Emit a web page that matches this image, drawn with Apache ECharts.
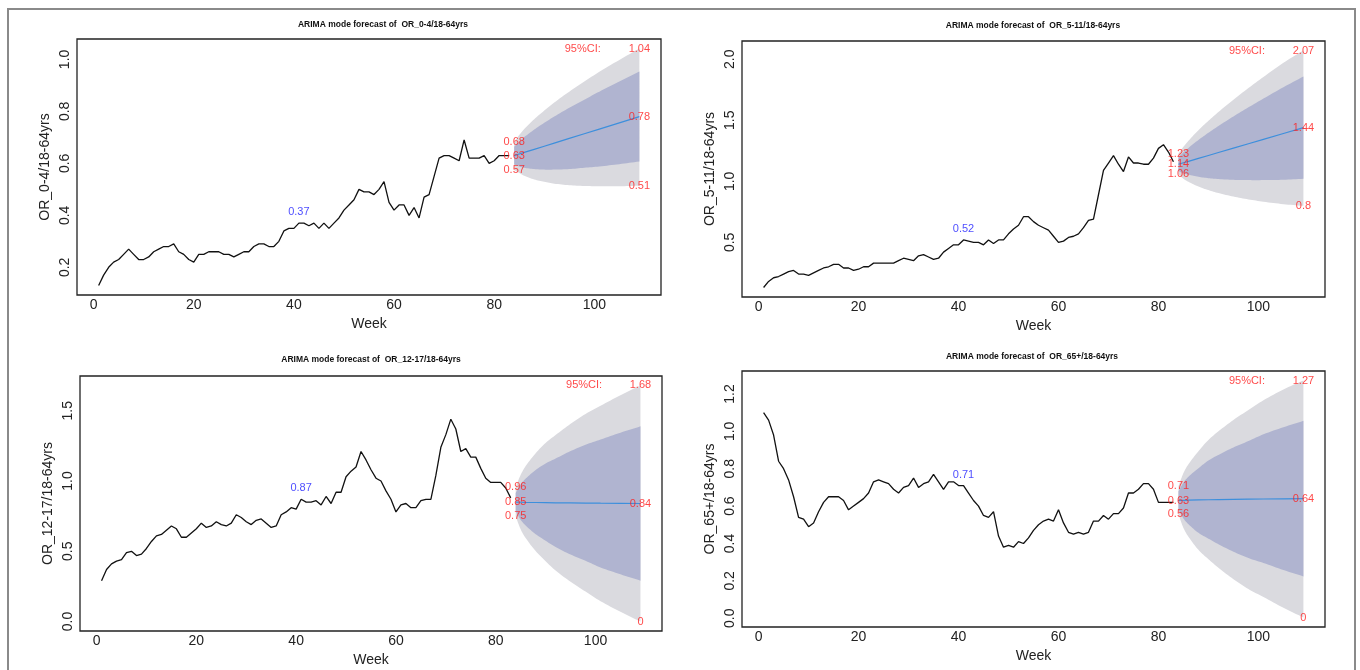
<!DOCTYPE html>
<html>
<head>
<meta charset="utf-8">
<script src="https://cdn.jsdelivr.net/npm/echarts@6/dist/echarts.min.js"></script>
<style>
html,body{margin:0;padding:0;background:#fff;}
#chart{width:1360px;height:670px;}
</style>
</head>
<body>
<div id="chart"></div>
<script>
// ---------- data ----------
const histWeeks = Array.from({length: 83}, (_, i) => i + 1);
const fcWeeks = [84, 85, 86, 88, 90, 92, 95, 98, 101, 105, 109];
const xTicks = [0, 20, 40, 60, 80, 100];
const markWeek = 41;

const titles = ['ARIMA mode forecast of  OR_0-4/18-64yrs', 'ARIMA mode forecast of  OR_5-11/18-64yrs',
                'ARIMA mode forecast of  OR_12-17/18-64yrs', 'ARIMA mode forecast of  OR_65+/18-64yrs'];
const yNames = ['OR_0-4/18-64yrs', 'OR_5-11/18-64yrs', 'OR_12-17/18-64yrs', 'OR_65+/18-64yrs'];
const ciLabel = '95%CI:';
const xName = 'Week';

// panel 1: OR_0-4/18-64yrs
const p1Hist = [0.13,0.17,0.20,0.22,0.23,0.25,0.27,0.25,0.23,0.23,
  0.24,0.26,0.27,0.28,0.28,0.29,0.26,0.25,0.23,0.22,
  0.25,0.25,0.26,0.26,0.26,0.25,0.25,0.24,0.25,0.26,
  0.26,0.28,0.29,0.29,0.28,0.28,0.30,0.34,0.35,0.35,
  0.37,0.37,0.36,0.37,0.35,0.37,0.35,0.37,0.39,0.42,
  0.44,0.46,0.50,0.49,0.49,0.48,0.50,0.53,0.45,0.42,
  0.44,0.44,0.40,0.43,0.39,0.47,0.48,0.55,0.62,0.63,
  0.63,0.62,0.61,0.69,0.62,0.62,0.62,0.63,0.60,0.61,
  0.63,0.63,0.63];
const p1Mean = [0.630,0.636,0.642,0.654,0.666,0.678,0.696,0.714,0.732,0.756,0.780];
const p1Hi95 = [0.682,0.709,0.732,0.770,0.803,0.834,0.876,0.915,0.952,0.998,1.042];
const p1Lo95 = [0.574,0.563,0.552,0.538,0.529,0.522,0.516,0.513,0.512,0.512,0.514];
const p1Hi80 = [0.664,0.684,0.701,0.730,0.756,0.780,0.814,0.845,0.876,0.915,0.953];
const p1Lo80 = [0.596,0.588,0.583,0.578,0.576,0.576,0.578,0.583,0.588,0.597,0.607];
const p1YTicks = [0.2, 0.4, 0.6, 0.8, 1.0];

// panel 2: OR_5-11/18-64yrs
const p2Hist = [0.13,0.18,0.21,0.22,0.24,0.26,0.27,0.24,0.24,0.23,
  0.25,0.27,0.29,0.30,0.32,0.32,0.29,0.29,0.27,0.28,
  0.30,0.30,0.33,0.33,0.33,0.33,0.33,0.35,0.37,0.36,
  0.35,0.39,0.40,0.38,0.36,0.37,0.42,0.45,0.48,0.48,
  0.52,0.51,0.50,0.50,0.48,0.52,0.49,0.52,0.52,0.57,
  0.61,0.64,0.71,0.71,0.67,0.64,0.62,0.60,0.55,0.50,
  0.51,0.54,0.55,0.57,0.62,0.68,0.69,0.89,1.09,1.15,
  1.21,1.14,1.08,1.20,1.15,1.15,1.14,1.14,1.19,1.27,
  1.30,1.24,1.16];
const p2Mean = [1.140,1.152,1.164,1.188,1.212,1.236,1.272,1.308,1.344,1.392,1.440];
const p2Hi95 = [1.228,1.283,1.332,1.419,1.496,1.568,1.669,1.764,1.855,1.971,2.072];
const p2Lo95 = [1.057,1.021,0.996,0.957,0.928,0.904,0.875,0.852,0.833,0.813,0.799];
const p2Hi80 = [1.196,1.238,1.274,1.339,1.398,1.453,1.532,1.606,1.678,1.771,1.859];
const p2Lo80 = [1.084,1.066,1.054,1.037,1.026,1.019,1.012,1.010,1.010,1.013,1.021];
const p2YTicks = [0.5, 1.0, 1.5, 2.0];

// panel 3: OR_12-17/18-64yrs
const p3Hist = [0.29,0.37,0.41,0.43,0.44,0.49,0.50,0.47,0.48,0.52,
  0.57,0.61,0.62,0.65,0.68,0.66,0.60,0.60,0.63,0.66,
  0.70,0.67,0.68,0.71,0.69,0.68,0.70,0.76,0.74,0.71,
  0.69,0.72,0.73,0.70,0.67,0.68,0.76,0.78,0.81,0.80,
  0.87,0.85,0.85,0.86,0.83,0.89,0.84,0.92,0.92,1.03,
  1.07,1.10,1.21,1.15,1.08,1.02,1.00,0.93,0.87,0.78,
  0.83,0.84,0.81,0.81,0.86,0.87,0.87,1.04,1.24,1.33,
  1.44,1.37,1.21,1.23,1.17,1.17,1.09,1.02,0.99,0.99,
  0.99,0.95,0.88];
const p3Mean = [0.850,0.849,0.848,0.847,0.846,0.845,0.844,0.843,0.842,0.841,0.840];
const p3Hi95 = [0.958,1.044,1.106,1.198,1.271,1.327,1.407,1.477,1.535,1.611,1.680];
const p3Lo95 = [0.748,0.656,0.594,0.502,0.429,0.363,0.283,0.213,0.145,0.069,0.000];
const p3Hi80 = [0.915,0.977,1.017,1.078,1.125,1.160,1.213,1.258,1.295,1.344,1.389];
const p3Lo80 = [0.785,0.723,0.683,0.622,0.575,0.530,0.477,0.432,0.385,0.336,0.291];
const p3YTicks = [0.0, 0.5, 1.0, 1.5];

// panel 4: OR_65+/18-64yrs
const p4Hist = [1.10,1.06,0.98,0.84,0.80,0.74,0.65,0.54,0.53,0.49,
  0.51,0.57,0.62,0.65,0.65,0.65,0.63,0.58,0.60,0.62,
  0.64,0.67,0.73,0.74,0.73,0.72,0.69,0.67,0.70,0.71,
  0.75,0.70,0.72,0.73,0.77,0.73,0.69,0.73,0.73,0.71,
  0.71,0.67,0.63,0.60,0.55,0.54,0.57,0.44,0.38,0.39,
  0.38,0.41,0.40,0.43,0.47,0.50,0.52,0.53,0.52,0.58,
  0.51,0.46,0.45,0.46,0.45,0.46,0.52,0.52,0.55,0.53,
  0.56,0.56,0.59,0.67,0.67,0.69,0.72,0.72,0.69,0.62,
  0.62,0.62,0.62];
const p4Mean = [0.630,0.631,0.632,0.633,0.634,0.635,0.636,0.637,0.638,0.639,0.640];
const p4Hi95 = [0.706,0.777,0.824,0.894,0.954,1.000,1.061,1.114,1.166,1.224,1.272];
const p4Lo95 = [0.556,0.483,0.436,0.366,0.316,0.270,0.209,0.156,0.114,0.056,0.004];
const p4Hi80 = [0.679,0.726,0.757,0.803,0.844,0.874,0.914,0.948,0.984,1.022,1.056];
const p4Lo80 = [0.581,0.534,0.503,0.457,0.426,0.396,0.356,0.322,0.296,0.258,0.224];
const p4YTicks = [0.0, 0.2, 0.4, 0.6, 0.8, 1.0, 1.2];

// ---------- layout / style ----------
const FONT = '"Liberation Sans", Arial, sans-serif';
const panels = [
  {hist: p1Hist, mean: p1Mean, hi95: p1Hi95, lo95: p1Lo95, hi80: p1Hi80, lo80: p1Lo80, yTicks: p1YTicks,
   grid: {left: 77, top: 39, width: 584, height: 256}, titleXY: [383, 25]},
  {hist: p2Hist, mean: p2Mean, hi95: p2Hi95, lo95: p2Lo95, hi80: p2Hi80, lo80: p2Lo80, yTicks: p2YTicks,
   grid: {left: 742, top: 41, width: 583, height: 256}, titleXY: [1033, 26]},
  {hist: p3Hist, mean: p3Mean, hi95: p3Hi95, lo95: p3Lo95, hi80: p3Hi80, lo80: p3Lo80, yTicks: p3YTicks,
   grid: {left: 80, top: 376, width: 582, height: 255}, titleXY: [371, 360]},
  {hist: p4Hist, mean: p4Mean, hi95: p4Hi95, lo95: p4Lo95, hi80: p4Hi80, lo80: p4Lo80, yTicks: p4YTicks,
   grid: {left: 742, top: 371, width: 583, height: 256}, titleXY: [1032, 357]}
];
const C95 = '#dadadf';
const C80 = '#b0b4d0';
const CMEAN = '#3d8fdc';
const fmt = v => String(Number(v.toFixed(2)));

// smooth pixel-space curve (cubic Hermite) through points mapped by the axes
function smoothPts(pts, steps) {
  const n = pts.length, out = [];
  const m = pts.map((p, i) => {
    const a = pts[Math.max(i - 1, 0)], b = pts[Math.min(i + 1, n - 1)];
    return (b[1] - a[1]) / (b[0] - a[0]);
  });
  for (let i = 0; i < n - 1; i++) {
    const p0 = pts[i], p1 = pts[i + 1], h = p1[0] - p0[0];
    for (let s = 0; s < steps; s++) {
      const t = s / steps, t2 = t * t, t3 = t2 * t;
      const y = (2*t3 - 3*t2 + 1) * p0[1] + (t3 - 2*t2 + t) * h * m[i] +
                (-2*t3 + 3*t2) * p1[1] + (t3 - t2) * h * m[i + 1];
      out.push([p0[0] + t * h, y]);
    }
  }
  out.push(pts[n - 1]);
  return out;
}
function bandSeries(i, upper, lower, color) {
  return {
    type: 'custom', xAxisIndex: i, yAxisIndex: i, silent: true, animation: false, z: 1,
    data: [[fcWeeks[0], upper[0]]],
    renderItem: (params, api) => {
      const up = smoothPts(fcWeeks.map((w, k) => api.coord([w, upper[k]])), 8);
      const lo = smoothPts(fcWeeks.map((w, k) => api.coord([w, lower[k]])), 8).reverse();
      return {type: 'polygon', shape: {points: up.concat(lo)}, style: {fill: color, stroke: null}};
    }
  };
}

const grids = [], xAxes = [], yAxes = [], series = [], graphics = [];
const xMinD = Math.min(...histWeeks), xMaxD = Math.max(...fcWeeks);
const xPad = 0.04 * (xMaxD - xMinD);

panels.forEach((p, i) => {
  grids.push(Object.assign({show: true, borderColor: '#222', borderWidth: 1.3, backgroundColor: 'transparent'}, p.grid));
  const lo = Math.min(...p.hist, ...p.lo95), hi = Math.max(...p.hist, ...p.hi95);
  const yPad = 0.04 * (hi - lo);
  xAxes.push({
    type: 'value', gridIndex: i, min: xMinD - xPad, max: xMaxD + xPad,
    name: xName, nameLocation: 'middle', nameGap: 22,
    nameTextStyle: {fontFamily: FONT, fontSize: 14, color: '#222'},
    axisLine: {show: false, onZero: false}, splitLine: {show: false},
    axisTick: {show: false, customValues: xTicks},
    axisLabel: {customValues: xTicks, fontFamily: FONT, fontSize: 14, color: '#222', margin: 3}
  });
  yAxes.push({
    type: 'value', gridIndex: i, min: lo - yPad, max: hi + yPad,
    name: yNames[i], nameLocation: 'middle', nameGap: 25,
    nameTextStyle: {fontFamily: FONT, fontSize: 14, color: '#222'},
    axisLine: {show: false, onZero: false}, splitLine: {show: false},
    axisTick: {show: false, customValues: p.yTicks},
    axisLabel: {customValues: p.yTicks, rotate: 90, formatter: v => v.toFixed(1),
      fontFamily: FONT, fontSize: 14, color: '#222', margin: 5}
  });
  series.push(bandSeries(i, p.hi95, p.lo95, C95));
  series.push(bandSeries(i, p.hi80, p.lo80, C80));
  series.push({type: 'line', xAxisIndex: i, yAxisIndex: i, symbol: 'none', silent: true, animation: false,
    data: fcWeeks.map((w, k) => [w, p.mean[k]]), lineStyle: {color: CMEAN, width: 1.2}, z: 3});
  series.push({type: 'line', xAxisIndex: i, yAxisIndex: i, symbol: 'none', silent: true, animation: false,
    data: histWeeks.map((w, k) => [w, p.hist[k]]), lineStyle: {color: '#111', width: 1.3}, z: 3});
  const last = fcWeeks.length - 1, first = fcWeeks[0], end = fcWeeks[last];
  const redPts = [[first, p.hi95[0]], [first, p.mean[0]], [first, p.lo95[0]],
                  [end, p.hi95[last]], [end, p.mean[last]], [end, p.lo95[last]]];
  series.push({type: 'scatter', xAxisIndex: i, yAxisIndex: i, silent: true, animation: false,
    symbolSize: 1, itemStyle: {color: 'rgba(0,0,0,0)'}, z: 5,
    data: redPts,
    label: {show: true, position: 'inside', formatter: q => fmt(q.value[1]),
      color: '#ff1a1a', fontFamily: FONT, fontSize: 11}});
  series.push({type: 'scatter', xAxisIndex: i, yAxisIndex: i, silent: true, animation: false,
    symbolSize: 1, itemStyle: {color: 'rgba(0,0,0,0)'}, z: 5,
    data: [[97.7, p.hi95[last]]],
    label: {show: true, position: 'inside', formatter: ciLabel,
      color: '#ff1a1a', fontFamily: FONT, fontSize: 11}});
  series.push({type: 'scatter', xAxisIndex: i, yAxisIndex: i, silent: true, animation: false,
    symbolSize: 1, itemStyle: {color: 'rgba(0,0,0,0)'}, z: 5,
    data: [[markWeek, p.hist[markWeek - 1]]],
    label: {show: true, position: 'top', distance: 5, formatter: q => fmt(q.value[1]),
      color: '#2020ff', fontFamily: FONT, fontSize: 11}});
  graphics.push({type: 'text', x: p.titleXY[0], y: p.titleXY[1], silent: true,
    style: {text: titles[i], fill: '#111', font: 'bold 8.5px ' + FONT, textAlign: 'center', textVerticalAlign: 'middle'}});
});

graphics.push({type: 'rect', silent: true, shape: {x: 8, y: 9, width: 1347, height: 700},
  style: {fill: null, stroke: '#8a8a8a', lineWidth: 2}});

const chart = echarts.init(document.getElementById('chart'), null, {renderer: 'canvas'});
chart.setOption({
  backgroundColor: '#fff',
  animation: false,
  grid: grids, xAxis: xAxes, yAxis: yAxes, series: series, graphic: graphics
});
</script>
</body>
</html>
